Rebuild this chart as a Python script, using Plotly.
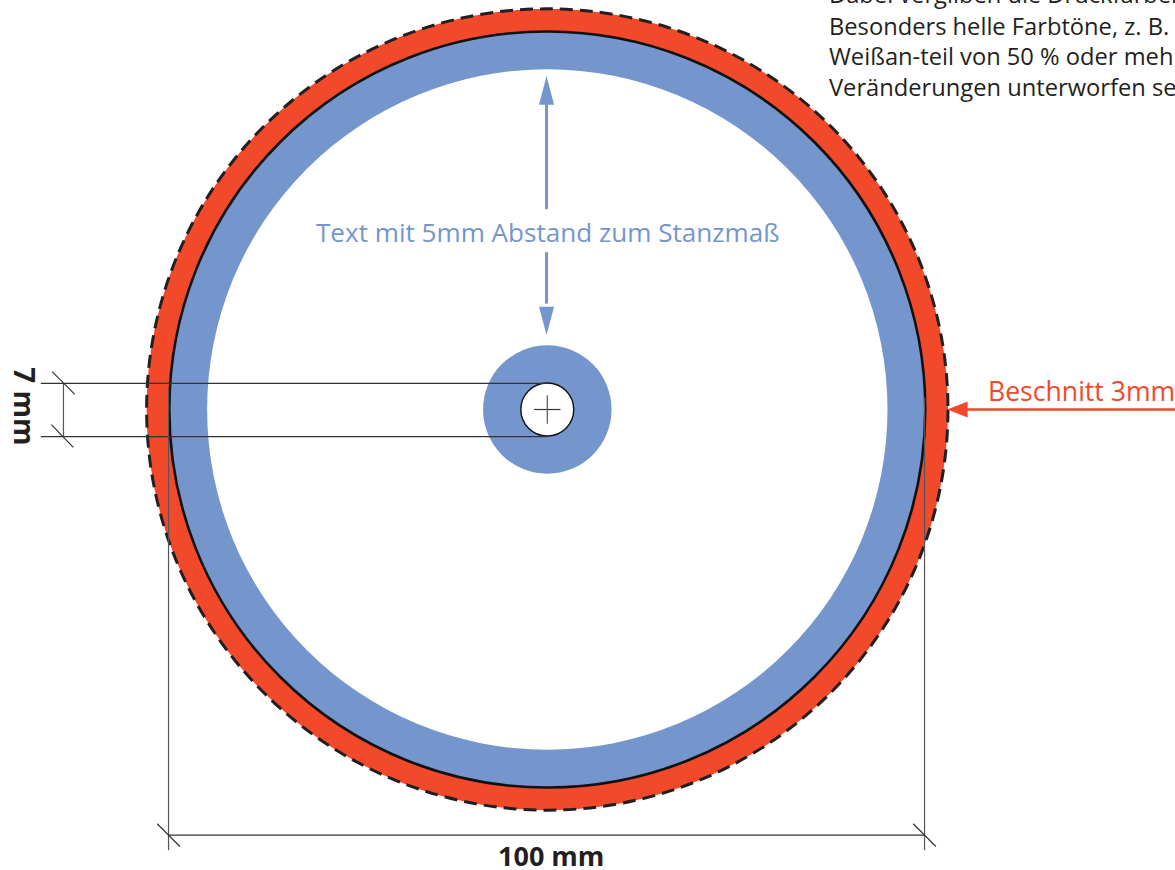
import plotly.graph_objects as go

# All geometry is in millimetres, origin at the disc centre
PX_PER_MM = 7.56
CX_PX, CY_PX = 547.3, 409.5
W, H = 1175, 870

BLUE = "#7596CC"
RED = "#F2492B"
DARK = "#231F20"
GREY = "#55565A"

radius_bleed = 53.0
radius_die = 50.0
radius_text_inner = 45.0
radius_hub = 8.5
radius_hole = 3.5

dim_segments = [
    # x0, y0, x1, y1
    (-67.0, 3.45, 0, 3.45),
    (-67.0, -3.6, 0, -3.6),
    (-64.0, 3.45, -64.0, -3.6),
    (-65.5, 5.0, -62.5, 2.0),
    (-65.6, -2.0, -62.7, -5.0),
    (-50.1, 2.6, -50.1, -58.3),
    (49.9, 1.6, 49.9, -58.3),
    (-50.1, -56.3, 49.9, -56.3),
    (-51.6, -54.8, -48.6, -57.8),
    (48.4, -54.8, 51.4, -57.8),
    (-1.75, 0, 1.75, 0),
    (0, 1.9, 0, -1.9),
]
blue_shafts = [(-0.1, 41.0, -0.1, 26.5), (-0.1, 20.8, -0.1, 14.0)]
blue_heads = [
    ([-1.1, 0.9, -0.1, -1.1], [40.3, 40.3, 44.1, 40.3]),
    ([-1.1, 0.9, -0.1, -1.1], [13.6, 13.6, 9.85, 13.6]),
]
red_shaft = (55.0, 0.0, 84.0, 0.0)
red_head = ([55.6, 55.6, 52.9, 55.6], [1.05, -1.05, 0.0, 1.05])

body_lines = [
    "Dabei vergilben die Druckfarben",
    "Besonders helle Farbtöne, z. B. F",
    "Weißan-teil von 50 % oder meh",
    "Veränderungen unterworfen se",
]
body_y = [54.1, 50.75, 46.7, 42.6]
body_shift = [7, 0, 0, 0]
body_x = 36.95

fig = go.Figure()


def seg(s, color, width):
    fig.add_trace(go.Scatter(x=[s[0], s[2]], y=[s[1], s[3]], mode="lines",
                             line=dict(color=color, width=width),
                             hoverinfo="skip", showlegend=False))


def head(h, color):
    fig.add_trace(go.Scatter(x=h[0], y=h[1], mode="lines", fill="toself",
                             fillcolor=color, line=dict(color=color, width=0),
                             hoverinfo="skip", showlegend=False))


def circle(r, fill, line=None, width=0, dash="solid"):
    fig.add_shape(type="circle", xref="x", yref="y", x0=-r, x1=r, y0=-r, y1=r,
                  fillcolor=fill, layer="below",
                  line=dict(color=line or fill, width=width, dash=dash))


circle(radius_bleed, RED, DARK, 3, "13px,7px")
circle(radius_die, BLUE, "#111111", 2.6)
circle(radius_text_inner, "white")
circle(radius_hub, BLUE)
circle(radius_hole, "white", "#111111", 1.4)

for s in dim_segments:
    seg(s, GREY if s[0] == s[2] else "#333333", 1.2)
for s in blue_shafts:
    seg(s, BLUE, 3)
for h in blue_heads:
    head(h, BLUE)
seg(red_shaft, RED, 2.6)
head(red_head, RED)

FONT = "Open Sans"
for t, y, sh in zip(body_lines, body_y, body_shift):
    fig.add_annotation(x=body_x, y=y, yshift=sh, text=t, showarrow=False, xanchor="left",
                       yanchor="middle", align="left",
                       font=dict(family=FONT, size=23.7, color=DARK))
fig.add_annotation(x=0, y=23.5, text="Text mit 5mm Abstand zum Stanzmaß",
                   showarrow=False, font=dict(family=FONT, size=26.1, color=BLUE))
fig.add_annotation(x=58.0, y=2.45, text="Beschnitt 3mm", showarrow=False,
                   xanchor="left", font=dict(family=FONT, size=26.6, color=RED))
fig.add_annotation(x=0.5, y=-59.05, text="<b>100 mm</b>", showarrow=False,
                   font=dict(family=FONT, size=27, color=DARK))
fig.add_annotation(x=-69.2, y=0.4, text="<b>7 mm</b>", showarrow=False, textangle=90,
                   font=dict(family=FONT, size=28, color=DARK))

fig.update_layout(
    width=W, height=H, margin=dict(l=0, r=0, t=0, b=0),
    paper_bgcolor="white", plot_bgcolor="white", showlegend=False,
    xaxis=dict(range=[-CX_PX / PX_PER_MM, (W - CX_PX) / PX_PER_MM], visible=False, fixedrange=True),
    yaxis=dict(range=[(CY_PX - H) / PX_PER_MM, CY_PX / PX_PER_MM], visible=False, fixedrange=True),
)
fig.write_html("out.html", config=dict(displayModeBar=False),
               post_script="document.body.style.margin='0';document.body.style.overflow='hidden';")
